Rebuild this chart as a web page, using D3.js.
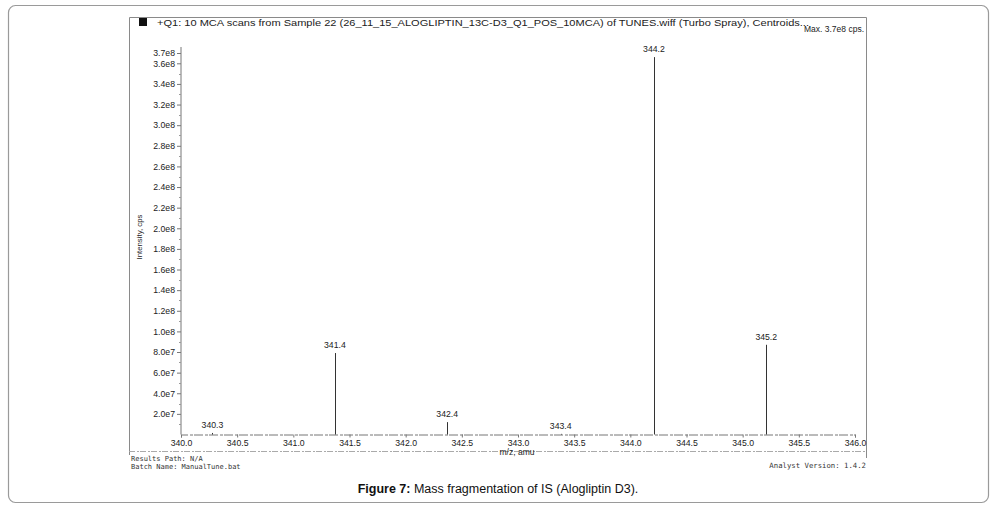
<!DOCTYPE html>
<html>
<head>
<meta charset="utf-8">
<script src="https://cdn.jsdelivr.net/npm/d3@7"></script>
<style>
  body { margin: 0; background: #fff; }
  svg { display: block; font-family: "Liberation Sans", Arial, sans-serif; }
</style>
</head>
<body>
<svg id="chart" width="996" height="509"></svg>
<script>
// peak centroids (m/z), intensities (cps) and the printed labels
var peakMz = [340.28, 341.37, 342.37, 343.38, 344.21, 345.21];
var peakIntensity = [1.5e6, 7.9e7, 1.2e7, 6e5, 3.66e8, 8.7e7];
var peakLabels = ["340.3", "341.4", "342.4", "343.4", "344.2", "345.2"];

var xTicks = [340.0, 340.5, 341.0, 341.5, 342.0, 342.5, 343.0, 343.5, 344.0, 344.5, 345.0, 345.5, 346.0];
var yTicks = [2e7, 4e7, 6e7, 8e7, 1e8, 1.2e8, 1.4e8, 1.6e8, 1.8e8, 2e8, 2.2e8, 2.4e8, 2.6e8, 2.8e8, 3e8, 3.2e8, 3.4e8, 3.6e8, 3.7e8];

var titleText = "+Q1: 10 MCA scans from Sample 22 (26_11_15_ALOGLIPTIN_13C-D3_Q1_POS_10MCA) of TUNES.wiff (Turbo Spray), Centroids...";

var svg = d3.select("#chart");

// outer rounded panel
svg.append("rect")
    .attr("x", 8.5).attr("y", 5.5)
    .attr("width", 980).attr("height", 497)
    .attr("rx", 7)
    .attr("fill", "#fff")
    .attr("stroke", "#9a9a9a")
    .attr("stroke-width", 1.2);

// instrument printout frame
var frame = svg.append("g");
frame.append("path")
    .attr("d", "M129.5,455 V17.5 H866.5 V458")
    .attr("fill", "none")
    .attr("stroke", "#8a8a8a")
    .attr("stroke-width", 1);
frame.append("line")
    .attr("x1", 129).attr("x2", 866)
    .attr("y1", 451.5).attr("y2", 451.5)
    .attr("stroke", "#aaa")
    .attr("stroke-dasharray", "6,2,2,1");

frame.append("rect")
    .attr("x", 139).attr("y", 18)
    .attr("width", 8).attr("height", 8)
    .attr("fill", "#111");

frame.append("text")
    .attr("x", 157).attr("y", 26)
    .attr("font-size", 9.8)
    .attr("fill", "#222")
    .attr("textLength", 652)
    .attr("lengthAdjust", "spacingAndGlyphs")
    .text(titleText);

frame.append("text")
    .attr("x", 864).attr("y", 32)
    .attr("text-anchor", "end")
    .attr("font-size", 8.5)
    .attr("fill", "#222")
    .text("Max. 3.7e8 cps.");

var x = d3.scaleLinear().domain([340, 346]).range([181, 855]);
var y = d3.scaleLinear().domain([0, 3.7e8]).range([434.5, 53]);

var fmtY = function(d) { return d3.format(".1e")(d).replace("+", ""); };

var gy = svg.append("g")
    .attr("transform", "translate(181,0)")
    .call(d3.axisLeft(y).tickValues(yTicks).tickFormat(fmtY).tickSize(4).tickPadding(2));
gy.select(".domain").attr("stroke", "#777").attr("d", "M0,434.5V47");
gy.selectAll(".tick line").attr("stroke", "#777");
gy.selectAll(".tick text")
    .attr("font-size", 8.7)
    .attr("fill", "#222")
    .attr("font-family", "Liberation Sans, Arial, sans-serif");

// minor y ticks
svg.append("g").selectAll("line")
    .data(d3.range(1e7, 3.7e8, 2e7))
    .enter().append("line")
    .attr("x1", 179).attr("x2", 181)
    .attr("y1", function(d) { return Math.round(y(d)) + 0.5; })
    .attr("y2", function(d) { return Math.round(y(d)) + 0.5; })
    .attr("stroke", "#999");

var gx = svg.append("g")
    .attr("transform", "translate(0,434.5)")
    .call(d3.axisBottom(x).tickValues(xTicks).tickFormat(d3.format(".1f")).tickSize(3).tickPadding(2));
gx.select(".domain").attr("stroke", "#777").attr("stroke-dasharray", "9,2,3,1");
gx.selectAll(".tick line").attr("stroke", "#777");
gx.selectAll(".tick text")
    .attr("font-size", 8.7)
    .attr("fill", "#222")
    .attr("font-family", "Liberation Sans, Arial, sans-serif");

// axis titles
svg.append("text")
    .attr("transform", "translate(142,237) rotate(-90)")
    .attr("text-anchor", "middle")
    .attr("font-size", 7.8)
    .attr("fill", "#222")
    .text("Intensity, cps");

svg.append("text")
    .attr("x", 517).attr("y", 455)
    .attr("text-anchor", "middle")
    .attr("font-size", 8.5)
    .attr("fill", "#222")
    .text("m/z, amu");

// centroid sticks
var peaks = peakMz.map(function(m, i) {
    return { mz: m, v: peakIntensity[i], label: peakLabels[i] };
});

svg.append("g").selectAll("line")
    .data(peaks)
    .enter().append("line")
    .attr("x1", function(d) { return Math.round(x(d.mz)) + 0.5; })
    .attr("x2", function(d) { return Math.round(x(d.mz)) + 0.5; })
    .attr("y1", y(0))
    .attr("y2", function(d) { return y(d.v); })
    .attr("stroke", "#333")
    .attr("stroke-width", 1);

svg.append("g").selectAll("text")
    .data(peaks)
    .enter().append("text")
    .attr("x", function(d) { return x(d.mz); })
    .attr("y", function(d) { return Math.min(y(d.v) - 5, 431); })
    .attr("text-anchor", "middle")
    .attr("font-size", 8.7)
    .attr("fill", "#222")
    .text(function(d) { return d.label; });

// footer lines of the printout
var mono = "DejaVu Sans Mono, Liberation Mono, monospace";
svg.append("text")
    .attr("x", 131).attr("y", 461)
    .attr("font-family", mono).attr("font-size", 7).attr("fill", "#333")
    .text("Results Path: N/A");
svg.append("text")
    .attr("x", 131).attr("y", 469)
    .attr("font-family", mono).attr("font-size", 7).attr("fill", "#333")
    .text("Batch Name: ManualTune.bat");
svg.append("text")
    .attr("x", 866).attr("y", 468)
    .attr("text-anchor", "end")
    .attr("font-family", mono).attr("font-size", 7.3).attr("fill", "#333")
    .text("Analyst Version: 1.4.2");

// caption
var cap = svg.append("text")
    .attr("x", 498).attr("y", 493)
    .attr("text-anchor", "middle")
    .attr("font-size", 12.5)
    .attr("fill", "#111");
cap.append("tspan").attr("font-weight", "bold").text("Figure 7:");
cap.append("tspan").text(" Mass fragmentation of IS (Alogliptin D3).");
</script>
</body>
</html>
